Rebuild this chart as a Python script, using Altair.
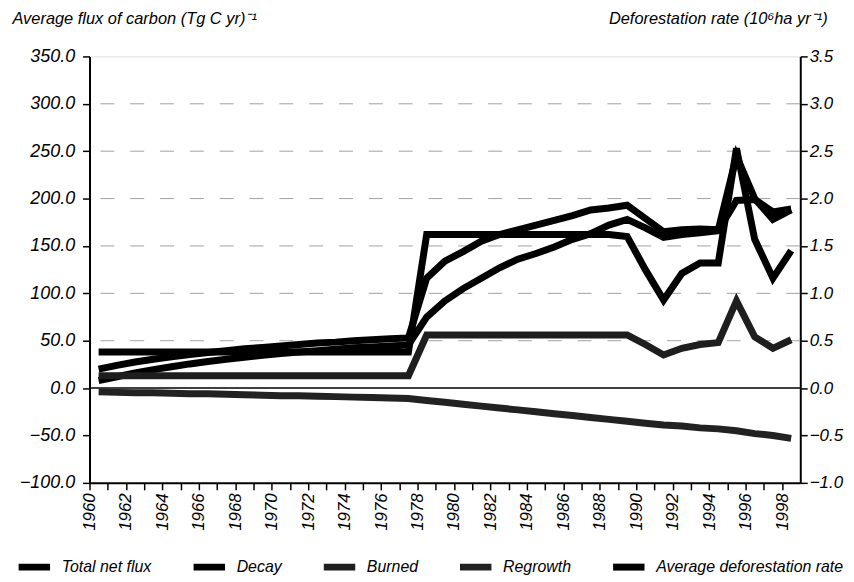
import altair as alt
import pandas as pd

years = list(range(1960, 1999))

total_net_flux = [20, 24, 27.5, 30.5, 33, 35.5, 37.5, 39.5, 41.5, 43, 44.5, 46, 47.5, 48.5, 50, 51, 52, 53,
                  116, 134, 144, 155, 162, 167, 172, 177, 182, 188, 190, 193,
                  179, 165, 167, 168, 167, 245, 200, 178, 188]
decay = [8, 12, 16, 19.5, 22.5, 25.5, 28, 30.5, 32.5, 34.5, 36.5, 38, 39.5, 41, 42.5, 43.5, 44.5, 45.5,
         75, 92, 105, 116, 127, 136, 142, 149, 157, 163, 172, 178,
         169, 159, 162, 164, 166, 198, 199, 186, 189]
burned = [13, 13, 13, 13, 13, 13, 13, 13, 13, 13, 13, 13, 13, 13, 13, 13, 13, 13,
          56, 56, 56, 56, 56, 56, 56, 56, 56, 56, 56, 56,
          46, 35, 42, 46, 48, 92, 54, 42, 51]
regrowth = [-4, -4.5, -5, -5, -5.5, -6, -6, -6.5, -7, -7.5, -8, -8, -8.5, -9, -9.5, -10, -10.5, -11,
            -13, -15, -17, -19, -21, -23, -25, -27, -29, -31, -33, -35,
            -37, -39, -40, -42, -43, -45, -48, -50, -53]
deforestation_rate = [0.38, 0.38, 0.38, 0.38, 0.38, 0.38, 0.38, 0.38, 0.38, 0.38, 0.38, 0.38, 0.38, 0.38, 0.38, 0.38, 0.38, 0.38,
                      1.62, 1.62, 1.62, 1.62, 1.62, 1.62, 1.62, 1.62, 1.62, 1.62, 1.62, 1.60,
                      1.25, 0.93, 1.21, 1.32, 1.32, 2.53, 1.57, 1.16, 1.45]

series_names = ["Total net flux", "Decay", "Burned", "Regrowth", "Average deforestation rate"]
series_colors = ["#000000", "#000000", "#1e1e1e", "#222222", "#000000"]
series_widths = [7, 7, 6, 5, 7]

left_ticks = [-100, -50, 0, 50, 100, 150, 200, 250, 300, 350]
right_ticks = [-1.0, -0.5, 0.0, 0.5, 1.0, 1.5, 2.0, 2.5, 3.0, 3.5]
grid_values = [50, 100, 150, 200, 250, 300]

flux_rows = []
for name, vals in zip(series_names[:4], [total_net_flux, decay, burned, regrowth]):
    for y, v in zip(years, vals):
        flux_rows.append({"year": y, "value": v, "series": name})
flux_df = pd.DataFrame(flux_rows)
def_df = pd.DataFrame({"year": years, "value": deforestation_rate, "series": series_names[4]})
grid_df = pd.DataFrame({"v": grid_values})
zero_df = pd.DataFrame({"v": [0]})

FONT = "Liberation Sans"
W, H = 715, 429

xscale = alt.Scale(domain=[1960, 1999], nice=False, zero=False)
xaxis = alt.Axis(values=years, format="d",
                 labelExpr="datum.value % 2 == 0 ? datum.label : ''",
                 labelAngle=270, labelAlign="right", labelBaseline="middle",
                 labelFontSize=17, labelFontStyle="italic", labelFont=FONT, labelColor="black",
                 tickSize=7, tickColor="black", tickWidth=1.5, labelPadding=3,
                 domainColor="black", domainWidth=2, grid=False, title=None)

left_scale = alt.Scale(domain=[-100, 350], nice=False, zero=False)
right_scale = alt.Scale(domain=[-1.0, 3.5], nice=False, zero=False)

color = alt.Color("series:N",
                  scale=alt.Scale(domain=series_names, range=series_colors),
                  sort=series_names,
                  legend=alt.Legend(title=None, orient="none", legendX=-75, legendY=494,
                                    direction="horizontal", symbolType="stroke",
                                    symbolSize=1000, symbolStrokeWidth=6,
                                    labelFont=FONT, labelFontSize=16, labelFontStyle="italic",
                                    labelColor="black", labelOffset=8, columnPadding=27,
                                    labelLimit=400))
swidth = alt.StrokeWidth("series:N", scale=alt.Scale(domain=series_names, range=series_widths), legend=None)

grid = alt.Chart(grid_df).mark_rule(color="#888888", strokeDash=[14, 16], strokeWidth=1, opacity=0.8).encode(
    y=alt.Y("v:Q", scale=left_scale, axis=None))
zero = alt.Chart(zero_df).mark_rule(color="black", strokeWidth=1.5).encode(
    y=alt.Y("v:Q", scale=left_scale, axis=None))

flux = alt.Chart(flux_df).transform_calculate(xpos="datum.year + 0.5").mark_line(strokeJoin="miter").encode(
    x=alt.X("xpos:Q", scale=xscale, axis=xaxis),
    y=alt.Y("value:Q", scale=left_scale,
            axis=alt.Axis(values=left_ticks, format=".1f", orient="left",
                          labelFontSize=18, labelFontStyle="italic", labelFont=FONT, labelColor="black",
                          tickSize=7, tickColor="black", tickWidth=1.5, labelPadding=8,
                          domainColor="black", domainWidth=2, grid=False,
                          title="Average flux of carbon (Tg C yr)⁻¹", titleAngle=0, titleAlign="left",
                          titleBaseline="alphabetic", titleX=-78, titleY=-33,
                          titleFont=FONT, titleFontSize=16.5, titleFontStyle="italic",
                          titleFontWeight="normal", titleColor="black")),
    color=color,
    strokeWidth=swidth,
    detail="series:N",
)

defo = alt.Chart(def_df).transform_calculate(xpos="datum.year + 0.5").mark_line(strokeJoin="miter").encode(
    x=alt.X("xpos:Q", scale=xscale, axis=xaxis),
    y=alt.Y("value:Q", scale=right_scale,
            axis=alt.Axis(values=right_ticks, format=".1f", orient="right",
                          labelFontSize=17, labelFontStyle="italic", labelFont=FONT, labelColor="black",
                          tickSize=7, tickColor="black", tickWidth=1.5, labelPadding=2,
                          domainColor="black", domainWidth=2, grid=False,
                          title="Deforestation rate (10⁶ha yr⁻¹)", titleAngle=0, titleAlign="right",
                          titleBaseline="alphabetic", titleX=27, titleY=-33,
                          titleFont=FONT, titleFontSize=16.5, titleFontStyle="italic",
                          titleFontWeight="normal", titleColor="black")),
    color=color,
    strokeWidth=swidth,
)

chart = alt.layer(grid, zero, flux, defo).resolve_scale(y="independent").properties(
    width=W, height=H,
    autosize=alt.AutoSizeParams(type="none"),
    padding={"left": 82, "top": 47, "right": 46, "bottom": 95},
).configure_view(stroke=None).configure(background="white")

chart.save("out.html", embed_options={"renderer": "svg", "actions": False})
